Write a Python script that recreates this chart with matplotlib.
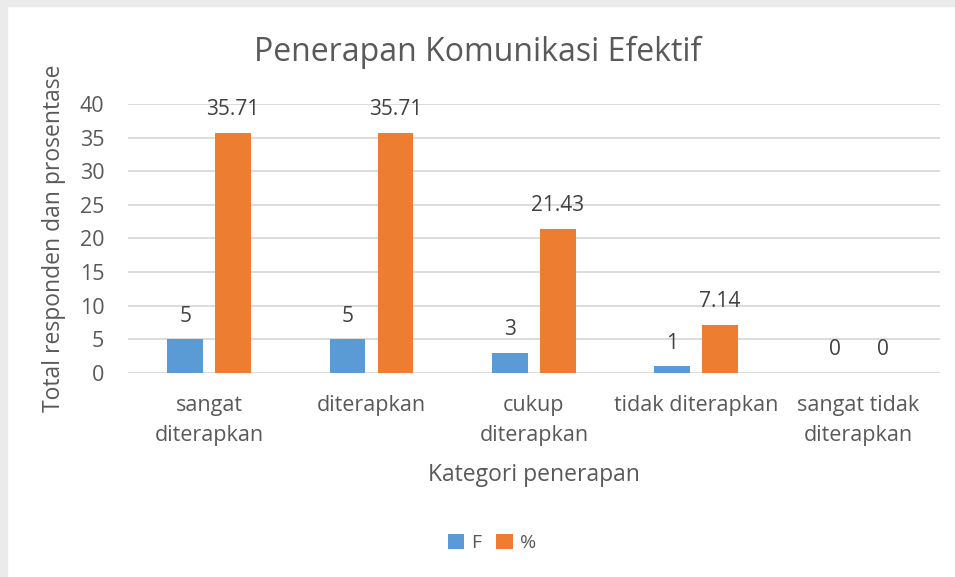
import numpy as np
import matplotlib.pyplot as plt
from matplotlib.patches import Rectangle

plt.rcParams['font.family'] = ['Open Sans', 'DejaVu Sans']

categories = ['sangat\nditerapkan', 'diterapkan', 'cukup\nditerapkan',
              'tidak diterapkan', 'sangat tidak\nditerapkan']
f_vals = [5, 5, 3, 1, 0]
pct_vals = [35.71, 35.71, 21.43, 7.14, 0]
f_labels = ['5', '5', '3', '1', '0']
pct_labels = ['35.71', '35.71', '21.43', '7.14', '0']

txt = '#595959'
blue = '#5B9BD5'
orange = '#ED7D31'

fig = plt.figure(figsize=(9.55, 5.77), dpi=100)
# grey screenshot edge
fig.patches.append(Rectangle((0, 1 - 6/577), 1, 6/577, transform=fig.transFigure,
                             color='#EBEBEB', zorder=0))
fig.patches.append(Rectangle((0, 0), 7/955, 1, transform=fig.transFigure,
                             color='#EBEBEB', zorder=0))

ax = fig.add_axes([0.134, 0.3536, 0.850, 0.4662])
x = np.arange(len(categories))
w = 0.22
gap = 0.075
b1 = ax.bar(x - (w + gap)/2, f_vals, w, color=blue, label='F', zorder=3)
b2 = ax.bar(x + (w + gap)/2, pct_vals, w, color=orange, label='%', zorder=3)

for rect, lab in zip(b1, f_labels):
    ax.annotate(lab, (rect.get_x() + rect.get_width()/2, rect.get_height()),
                xytext=(0, 9), textcoords='offset points', ha='center',
                va='bottom', fontsize=15, color='#404040')
for rect, lab in zip(b2, pct_labels):
    ax.annotate(lab, (rect.get_x() + rect.get_width()/2, rect.get_height()),
                xytext=(0, 9), textcoords='offset points', ha='center',
                va='bottom', fontsize=15, color='#404040')

ax.set_xlim(-0.5, len(categories) - 0.5)
ax.set_ylim(0, 40)
ax.set_yticks(range(0, 41, 5))
ax.grid(axis='y', color='#D9D9D9', linewidth=1.3, zorder=0)
for s in ax.spines.values():
    s.set_visible(False)
ax.tick_params(length=0, labelsize=15.5, colors=txt)
ax.tick_params(axis='x', pad=16)
ax.tick_params(axis='y', pad=17)
ax.set_xticks(x)
ax.set_xticklabels(categories, linespacing=1.55)

ax.set_xlabel('Kategori penerapan', fontsize=16.5, color=txt, labelpad=12)
ax.set_ylabel('Total responden dan prosentase', fontsize=16.5, color=txt, labelpad=10)
fig.text(0.5, 0.91, 'Penerapan Komunikasi Efektif', ha='center', va='center',
         fontsize=23, color=txt)

fig.legend(handles=[b1, b2], labels=['F', '%'], loc='center',
           bbox_to_anchor=(0.515, 0.059), ncol=2, frameon=False, fontsize=14,
           labelcolor=txt, handlelength=0.85, handleheight=0.85,
           handletextpad=0.35, columnspacing=0.8)

fig.savefig('out.png', dpi=100)
